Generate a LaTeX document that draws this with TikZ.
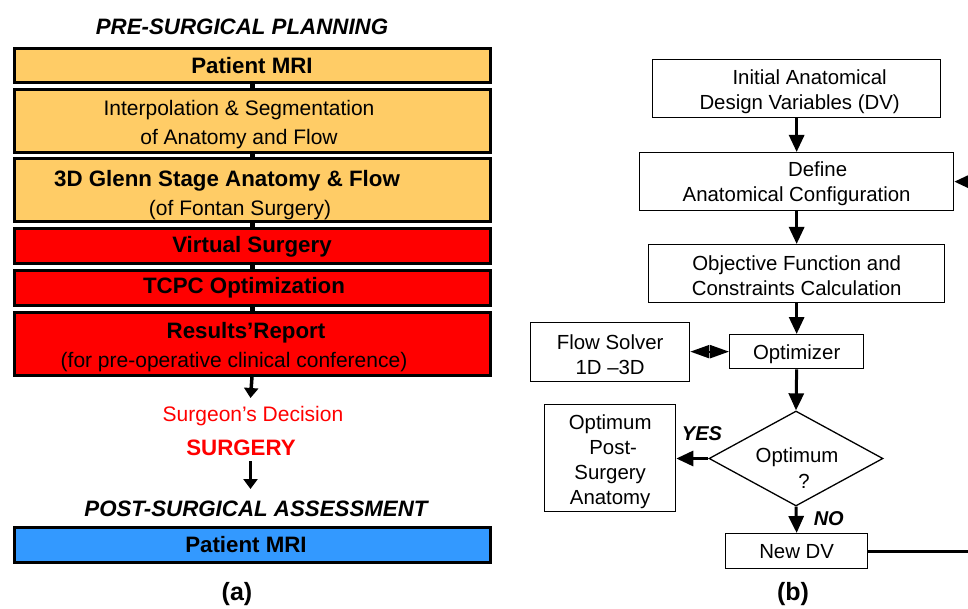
\documentclass[tikz,border=0pt]{standalone}
\usepackage{fontspec}
\setmainfont{Liberation Sans}
\usetikzlibrary{arrows.meta,shapes.geometric}
\definecolor{boxorange}{HTML}{FFCC66}
\definecolor{boxred}{HTML}{FF0000}
\definecolor{boxblue}{HTML}{3399FF}
\newcommand\myL[2]{#2\hspace*{#1}}
\newcommand\myR[2]{\hspace*{#1}#2}
\newcommand\myStrut[1]{\rule{0pt}{#1}}
\begin{document}
\begin{tikzpicture}[x=1pt,y=-1pt,
  lbox/.style={draw=black, line width=3pt, anchor=north west, minimum width=476pt,
    inner sep=0pt, align=center, font=\fontsize{21}{29}\selectfont},
  lbold/.style={font=\fontsize{22.3}{29}\selectfont\bfseries},
  rbox/.style={draw=black, line width=1.3pt, anchor=north west, inner sep=0pt,
    align=center, font=\fontsize{20.4}{25}\selectfont},
  rtxt/.style={inner sep=0pt, align=center, font=\fontsize{20.4}{25.5}\selectfont},
  ttl/.style={inner sep=0pt, font=\fontsize{22.3}{26}\selectfont\bfseries\itshape},
  captxt/.style={inner sep=0pt, font=\fontsize{25}{28}\selectfont\bfseries},
  lab/.style={inner sep=0pt, font=\fontsize{20}{24}\selectfont\bfseries\itshape},
  larr/.style={line width=3.5pt, -{Triangle[length=10pt,width=14pt]}},
  rarr/.style={line width=3pt, -{Triangle[length=17pt,width=15pt]}},
  darr/.style={line width=2pt, {Triangle[length=19pt,width=13pt]}-{Triangle[length=19pt,width=13pt]}},
  stub/.style={line width=5pt}
]
\useasboundingbox (0,0) rectangle (968,609);
\clip (0,0) rectangle (968,609);

% ---------- panel (a) ----------
\node[ttl] (pre) at (242,27) {PRE-SURGICAL PLANNING};
\node[lbox, fill=boxorange, minimum height=34pt, lbold] (b1) at (12.5,47.5) {Patient MRI};
\node[lbox, fill=boxorange, minimum height=63pt] (b2) at (12.5,88.5)
  {\myStrut{22pt}\myL{26pt}{Interpolation \& Segmentation}\\\myL{26pt}{of Anatomy and Flow}};
\node[lbox, fill=boxorange, minimum height=63pt] (b3) at (12.5,157.5)
  {\myStrut{25pt}\myL{50pt}{\fontsize{22.3}{29}\selectfont\bfseries 3D Glenn Stage Anatomy \& Flow}\\\myL{24pt}{(of Fontan Surgery)}};
\node[lbox, fill=boxred, minimum height=35pt, lbold] (b4) at (12.5,227.5) {Virtual Surgery};
\node[lbox, fill=boxred, minimum height=34pt, lbold] (b5) at (12.5,269.5) {\myL{16pt}{TCPC Optimization}};
\node[lbox, fill=boxred, minimum height=63pt] (b6) at (12.5,310.5)
  {\myStrut{24pt}\myL{12pt}{\fontsize{22.3}{29}\selectfont\bfseries Results’Report}\\\myL{36pt}{(for pre-operative clinical conference)}};
\draw[stub] (b1.south) -- (b2.north);
\draw[stub] (b2.south) -- (b3.north);
\draw[stub] (b3.south) -- (b4.north);
\draw[stub] (b4.south) -- (b5.north);
\draw[stub] (b5.south) -- (b6.north);

\coordinate (d1) at (250.5,398);
\draw[larr] (b6.south) -- (d1);
\node[inner sep=0pt, text=boxred, font=\fontsize{21}{25}\selectfont] (dec) at (253,416) {Surgeon’s Decision};
\node[inner sep=0pt, text=boxred, font=\fontsize{22.3}{26}\selectfont\bfseries] (sur) at (241,448) {SURGERY};
\coordinate (s1) at (250.5,461);
\coordinate (s2) at (250.5,489);
\draw[larr] (s1) -- (s2);
\node[ttl] (post) at (256,509) {POST-SURGICAL ASSESSMENT};
\node[lbox, fill=boxblue, minimum height=35pt, lbold] (b7) at (12.5,525.5) {\myL{12pt}{Patient MRI}};
\node[captxt] (capa) at (237,594) {(a)};

% ---------- panel (b) ----------
\node[rbox, minimum width=288pt, minimum height=58pt] (init) at (652,59)
  {\myStrut{20pt}\myR{26pt}{Initial Anatomical}\\\myR{6pt}{Design Variables (DV)}};
\node[rbox, minimum width=314pt, minimum height=58pt] (def) at (639,152)
  {\myStrut{18pt}\myR{42pt}{Define}\\Anatomical Configuration};
\node[rbox, minimum width=296pt, minimum height=58pt] (obj) at (648,244)
  {\myStrut{18pt}Objective Function and\\Constraints Calculation};
\node[rbox, minimum width=134pt, minimum height=34pt] (opt) at (729,334) {\myStrut{19pt}Optimizer};
\node[rbox, minimum width=159pt, minimum height=59pt] (flow) at (530,322) {\myStrut{19pt}Flow Solver\\1D –3D};
\node[draw=black, line width=1.3pt, diamond, minimum width=174pt, minimum height=95pt, inner sep=0pt] (dia) at (796,458.5) {};
\node[rtxt] (qtxt) at (797,468) {Optimum\\\myR{14pt}{?}};
\node[rbox, minimum width=131pt, minimum height=107pt] (post2) at (544,404)
  {\myStrut{21pt}Optimum\\\myR{6pt}{Post-}\\Surgery\\Anatomy};
\node[rbox, minimum width=142pt, minimum height=35pt] (newdv) at (725,533) {New DV};

\draw[rarr] (init.south) -- (def.north);
\draw[rarr] (def.south) -- (obj.north);
\draw[rarr] (obj.south) -- (opt.north);
\draw[darr] (flow.east |- opt.west) -- (opt.west);
\draw[rarr] (opt.south) -- (dia.north);
\draw[rarr] (dia.west) -- node[lab, pos=0.2, above=16pt] (yes) {YES} (post2.east |- dia.west);
\draw[rarr] (dia.south) -- node[lab, pos=0.45, right=16pt] (no) {NO} (newdv.north);
\draw[rarr] (newdv.east) -- ++(150,0) |- (def.east);
\node[captxt] (capb) at (793,594) {(b)};
\end{tikzpicture}
\end{document}
